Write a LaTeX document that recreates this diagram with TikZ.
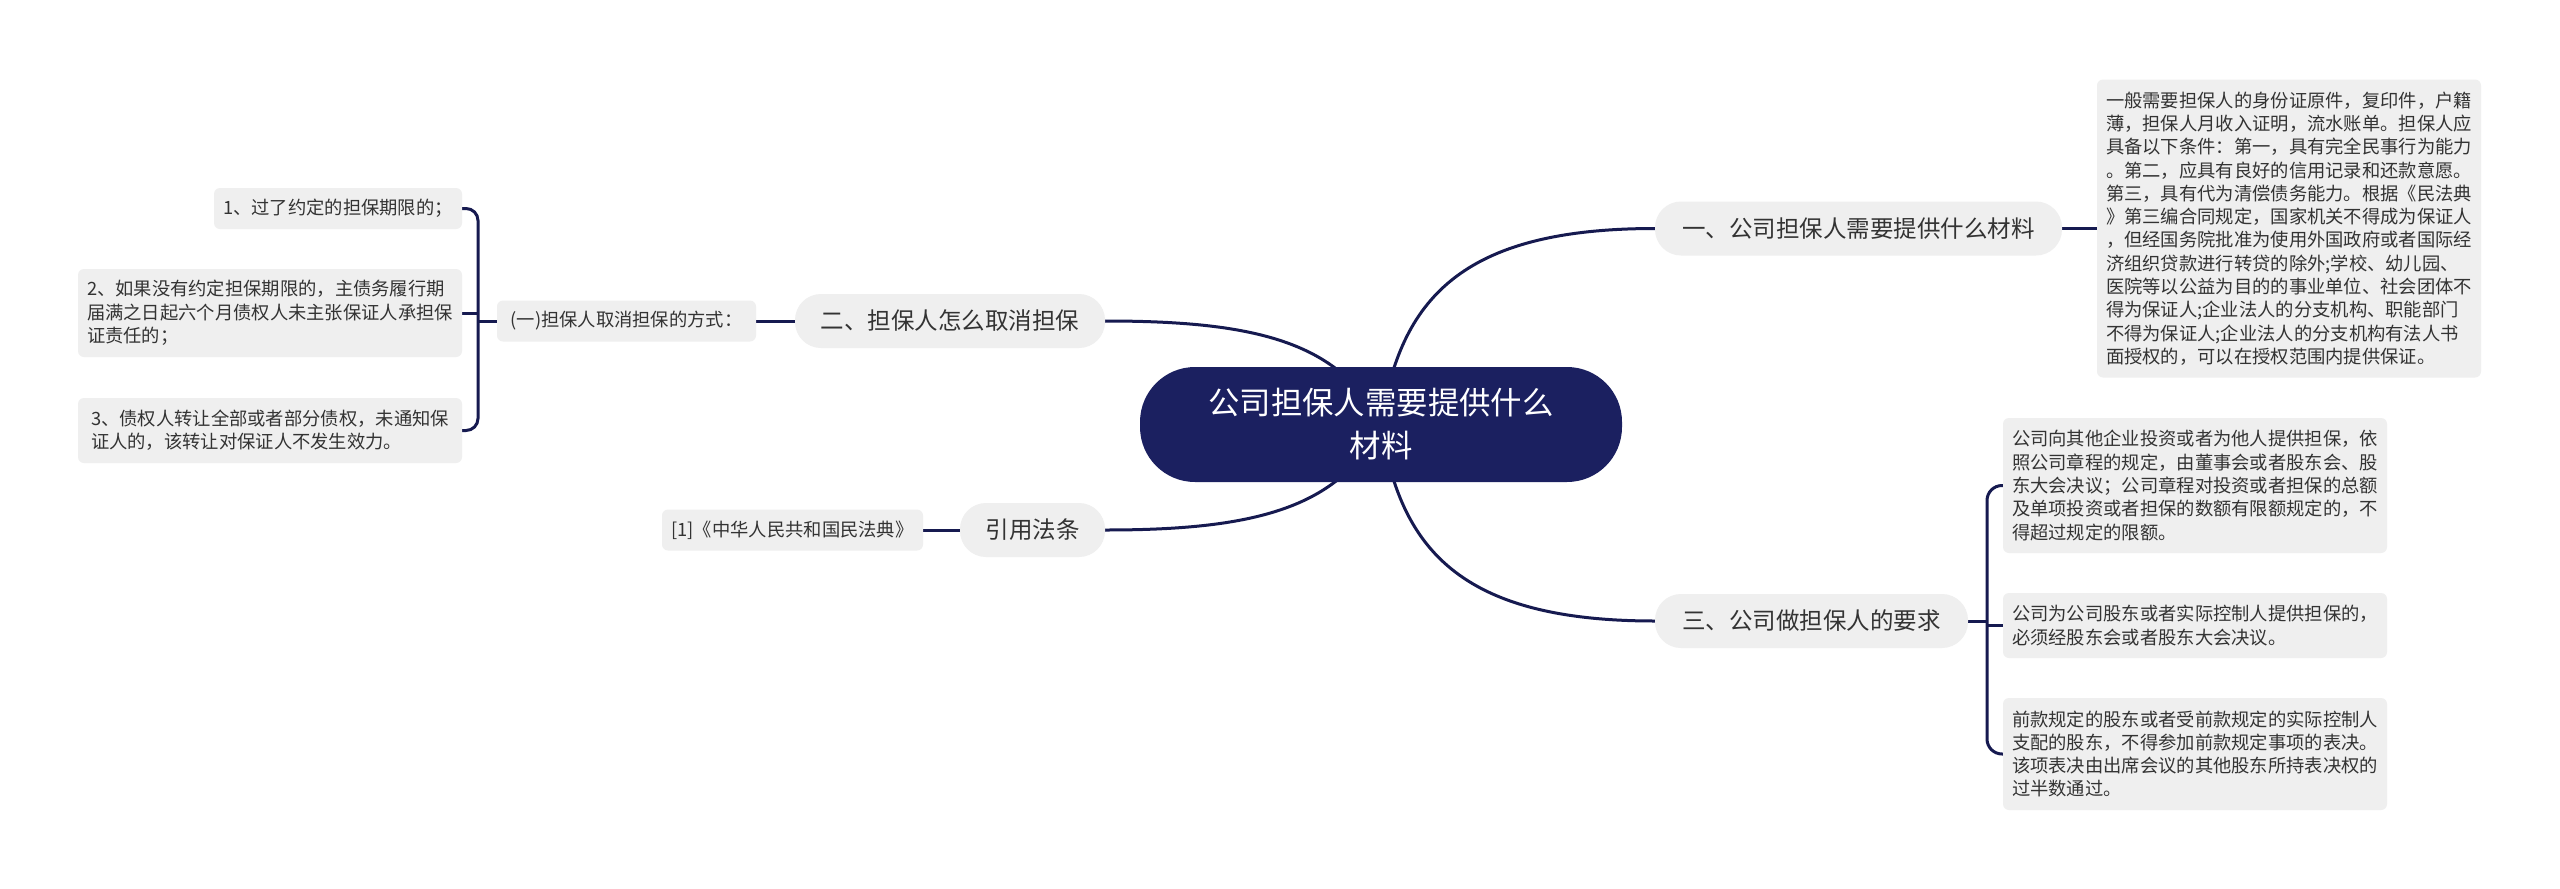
\documentclass[tikz,border=0pt]{standalone}
\usepackage{fontspec}
\setmainfont{Noto Sans CJK SC}
\usetikzlibrary{backgrounds}
\definecolor{navy}{RGB}{27,32,96}
\definecolor{linec}{RGB}{22,26,80}
\definecolor{boxg}{RGB}{239,239,239}
\definecolor{txt}{RGB}{51,51,51}
\begin{document}
\begin{tikzpicture}[x=1pt,y=-1pt,
  rootbox/.style={fill=navy, text=white, rounded corners=55pt, minimum width=482pt, minimum height=115pt, align=center, inner sep=0pt, font=\fontsize{31.4pt}{43pt}\selectfont},
  branch/.style={fill=boxg, text=txt, rounded corners=26pt, minimum height=54pt, inner sep=0pt, font=\fontsize{23.5pt}{28pt}\selectfont},
  leaf/.style={fill=boxg, text=txt, rounded corners=6pt, inner sep=0pt, align=left, font=\fontsize{18.3pt}{23.3pt}\selectfont},
  conn/.style={draw=linec, line width=3pt},
]
\path[use as bounding box] (0,0) rectangle (2560,889);

% root
\node[rootbox] (root) at (1381,424.5) {公司担保人需要提供什么\\材料};

% branches
\node[branch, minimum width=407pt] (b1) at (1858.5,228.5) {一、公司担保人需要提供什么材料};
\node[branch, minimum width=313pt] (b3) at (1811.5,621) {三、公司做担保人的要求};
\node[branch, minimum width=310pt] (b2) at (950,321) {二、担保人怎么取消担保};
\node[branch, minimum width=145pt] (b4) at (1032.5,530) {引用法条};

% right leaves
\node[leaf, minimum width=384pt, minimum height=298pt] (r1) at (2289,228.5) {一般需要担保人的身份证原件，复印件，户籍\\
薄，担保人月收入证明，流水账单。担保人应\\
具备以下条件：第一，具有完全民事行为能力\\
。第二，应具有良好的信用记录和还款意愿。\\
第三，具有代为清偿债务能力。根据《民法典\\
》第三编合同规定，国家机关不得成为保证人\\
，但经国务院批准为使用外国政府或者国际经\\
济组织贷款进行转贷的除外;学校、幼儿园、\\
医院等以公益为目的的事业单位、社会团体不\\
得为保证人;企业法人的分支机构、职能部门\\
不得为保证人;企业法人的分支机构有法人书\\
面授权的，可以在授权范围内提供保证。};

\node[leaf, minimum width=384pt, minimum height=135pt] (r2) at (2195,485.5) {公司向其他企业投资或者为他人提供担保，依\\
照公司章程的规定，由董事会或者股东会、股\\
东大会决议；公司章程对投资或者担保的总额\\
及单项投资或者担保的数额有限额规定的，不\\
得超过规定的限额。};
\node[leaf, minimum width=384pt, minimum height=65pt] (r3) at (2195,625.5) {公司为公司股东或者实际控制人提供担保的，\\
必须经股东会或者股东大会决议。};
\node[leaf, minimum width=384pt, minimum height=112pt] (r4) at (2195,754) {前款规定的股东或者受前款规定的实际控制人\\
支配的股东，不得参加前款规定事项的表决。\\
该项表决由出席会议的其他股东所持表决权的\\
过半数通过。};

% left leaves
\node[leaf, minimum width=259pt, minimum height=41pt] (s1) at (626.5,321) {(一)担保人取消担保的方式：};
\node[leaf, minimum width=261pt, minimum height=41pt] (law) at (792.5,530) {[1]《中华人民共和国民法典》};
\node[leaf, minimum width=248pt, minimum height=41pt] (i1) at (338,208.5) {1、过了约定的担保期限的；};
\node[leaf, minimum width=384pt, minimum height=88pt] (i2) at (270,313) {2、如果没有约定担保期限的，主债务履行期\\
届满之日起六个月债权人未主张保证人承担保\\
证责任的；};
\node[leaf, minimum width=384pt, minimum height=65pt] (i3) at (270,430.5) {3、债权人转让全部或者部分债权，未通知保\\
证人的，该转让对保证人不发生效力。};

\coordinate (lbx) at (478,0);
\coordinate (rbx) at (1987,0);

\begin{scope}[on background layer]
\fill[white] (0,0) rectangle (2560,889);
\draw[conn] (root.center) .. controls (1400,300) and (1460,228.5) .. (b1.west);
\draw[conn] (root.center) .. controls (1400,549) and (1460,621) .. (b3.west);
\draw[conn] (root.center) .. controls (1340,340) and (1250,321) .. (b2.east);
\draw[conn] (root.center) .. controls (1340,510) and (1250,530) .. (b4.east);
\draw[conn] (b1.east) -- (r1.west);
\draw[conn] (b2.west) -- (s1.east);
\draw[conn] (b4.west) -- (law.east);
% left bracket
\draw[conn] (s1.west) -- (s1.west -| lbx);
\draw[conn, rounded corners=12pt] (i1.east) -- (i1.east -| lbx) -- (i3.east -| lbx) -- (i3.east);
\draw[conn] (i2.east) -- (i2.east -| lbx);
% right bracket
\draw[conn] (b3.east) -- (b3.east -| rbx);
\draw[conn, rounded corners=15pt] (r2.west) -- (r2.west -| rbx) -- (r4.west -| rbx) -- (r4.west);
\draw[conn] (r3.west) -- (r3.west -| rbx);
\end{scope}
\end{tikzpicture}
\end{document}
